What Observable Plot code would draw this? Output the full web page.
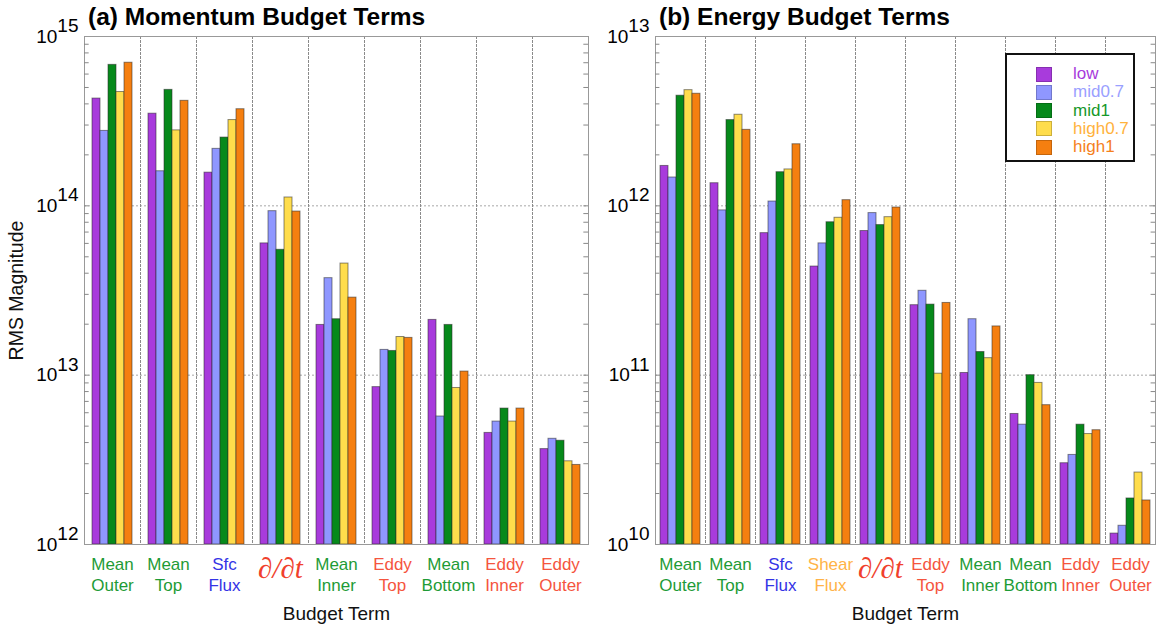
<!DOCTYPE html>
<html><head><meta charset="utf-8">
<script src="https://cdn.jsdelivr.net/npm/d3@7"></script>
<script src="https://cdn.jsdelivr.net/npm/@observablehq/plot@0.6"></script>
<style>
body{margin:0;background:#fff;font-family:"Liberation Sans",Arial,sans-serif;}
#wrap{position:relative;width:1159px;height:629px;overflow:hidden;background:#fff;}
.panel{position:absolute;top:0;}
.title{position:absolute;top:4px;font-weight:bold;font-size:24.5px;line-height:25px;color:#000;white-space:nowrap;}
#legend{position:absolute;left:1005px;top:53px;width:126px;height:105px;border:2px solid #111;background:#fff;}
#legend .row{position:absolute;left:29px;height:18px;display:flex;align-items:center;}
#legend .sw{width:16px;height:15px;box-sizing:border-box;border:1px solid rgba(0,0,0,0.2);}
#legend .lab{margin-left:21px;font-size:17px;line-height:18px;}
</style></head><body><div id="wrap"></div>
<script>
// ---- series ----
const series = ["low", "mid0.7", "mid1", "high0.7", "high1"];
const seriesFill = ["#a83bdc", "#8f97ff", "#06891b", "#ffdd4c", "#f57f10"];
const seriesText = ["#a83bdc", "#9aa0ff", "#16982a", "#ffb23c", "#f5801c"];

// ---- (a) Momentum budget ----
const momCats = ["Mean Outer", "Mean Top", "Sfc Flux", "ddt", "Mean Inner", "Eddy Top", "Mean Bottom", "Eddy Inner", "Eddy Outer"];
const momLabels = ["Mean\nOuter", "Mean\nTop", "Sfc\nFlux", "∂/∂t", "Mean\nInner", "Eddy\nTop", "Mean\nBottom", "Eddy\nInner", "Eddy\nOuter"];
const momLabelColors = ["#1e9b36", "#1e9b36", "#3434e6", "#f0402c", "#1e9b36", "#f5553e", "#1e9b36", "#f5553e", "#f5553e"];
const momLow    = [4.3e14, 3.5e14, 1.57e14, 6.0e13, 1.98e13, 8.5e12, 2.12e13, 4.56e12, 3.66e12];
const momMid07  = [2.77e14, 1.6e14, 2.17e14, 9.3e13, 3.74e13, 1.41e13, 5.7e12, 5.32e12, 4.21e12];
const momMid1   = [6.8e14, 4.84e14, 2.53e14, 5.5e13, 2.14e13, 1.39e13, 1.98e13, 6.35e12, 4.1e12];
const momHigh07 = [4.7e14, 2.79e14, 3.21e14, 1.12e14, 4.56e13, 1.68e13, 8.4e12, 5.32e12, 3.1e12];
const momHigh1  = [7.0e14, 4.17e14, 3.72e14, 9.25e13, 2.87e13, 1.66e13, 1.05e13, 6.35e12, 2.95e12];
const momTicks = [1e12, 1e13, 1e14, 1e15];

// ---- (b) Energy budget ----
const engCats = ["Mean Outer", "Mean Top", "Sfc Flux", "Shear Flux", "ddt", "Eddy Top", "Mean Inner", "Mean Bottom", "Eddy Inner", "Eddy Outer"];
const engLabels = ["Mean\nOuter", "Mean\nTop", "Sfc\nFlux", "Shear\nFlux", "∂/∂t", "Eddy\nTop", "Mean\nInner", "Mean\nBottom", "Eddy\nInner", "Eddy\nOuter"];
const engLabelColors = ["#1e9b36", "#1e9b36", "#3434e6", "#ffb347", "#f0402c", "#f5553e", "#1e9b36", "#1e9b36", "#f5553e", "#f5553e"];
const engLow    = [1.72e12, 1.36e12, 6.9e11, 4.38e11, 7.1e11, 2.59e11, 1.03e11, 5.9e10, 3.02e10, 1.16e10];
const engMid07  = [1.47e12, 9.4e11, 1.06e12, 6.0e11, 9.06e11, 3.15e11, 2.14e11, 5.1e10, 3.38e10, 1.29e10];
const engMid1   = [4.47e12, 3.21e12, 1.58e12, 8.0e11, 7.7e11, 2.61e11, 1.37e11, 1.0e11, 5.1e10, 1.87e10];
const engHigh07 = [4.82e12, 3.45e12, 1.64e12, 8.5e11, 8.57e11, 1.02e11, 1.26e11, 9.0e10, 4.49e10, 2.66e10];
const engHigh1  = [4.59e12, 2.81e12, 2.31e12, 1.08e12, 9.77e11, 2.67e11, 1.94e11, 6.65e10, 4.73e10, 1.82e10];
const engTicks = [1e10, 1e11, 1e12, 1e13];

const FONT = "Liberation Sans, Arial, Helvetica, sans-serif";

function makePanel({cats, labels, labelColors, cols, ticks, width, marginLeft, marginRight, yLabel}) {
  const rows = [];
  cats.forEach((c, i) => series.forEach((s, j) => rows.push({cat: c, series: s, value: cols[j][i]})));
  const labRows = cats.map((c, i) => ({cat: c, label: labels[i], color: labelColors[i], special: c === "ddt"}));
  const dom = [ticks[0], ticks[ticks.length - 1]];
  const minor = [];
  for (let k = 0; k < ticks.length - 1; k++) for (let m = 2; m <= 9; m++) minor.push(m * ticks[k]);
  const inner = ticks.slice(1, -1);
  const facetW = (width - marginLeft - marginRight) / cats.length;
  const tickLen = 5;
  const marks = [
    Plot.ruleY(inner, {stroke: "#a8a8a8", strokeDasharray: "2,2"}),
    Plot.frame({anchor: "left", stroke: "#8a8a8a", strokeDasharray: "2,2"}),
    Plot.barY(rows, {fx: "cat", x: "series", y1: dom[0], y2: "value", fill: "series", stroke: "#2a2a2a", strokeOpacity: 0.55, strokeWidth: 1}),
    Plot.ruleY(dom, {stroke: "#999"}),
    Plot.frame({facet: "super", stroke: "#999"}),
    // minor ticks inside the frame, left and right edges
    Plot.tickY(minor.concat(inner), {y: d => d, facetAnchor: "left", insetRight: facetW - tickLen, stroke: "#888"}),
    Plot.tickY(minor.concat(inner), {y: d => d, facetAnchor: "right", insetLeft: facetW - tickLen, stroke: "#888"}),
    Plot.axisY({anchor: "left", ticks: ticks, tickSize: 0, tickPadding: 6, fontSize: 19,
      tickFormat: d => "10^" + Math.round(Math.log10(d)), label: null}),
    Plot.text(labRows.filter(d => !d.special), {fx: "cat", text: "label", fill: "color", frameAnchor: "bottom", lineAnchor: "middle", dy: 29.5, fontSize: 17, lineHeight: 1.24}),
    Plot.text(labRows.filter(d => d.special), {fx: "cat", text: "label", fill: "color", frameAnchor: "bottom", lineAnchor: "middle", dy: 24, fontSize: 29, fontStyle: "italic", fontFamily: "Liberation Serif, serif"}),
    Plot.text(["Budget Term"], {facet: "super", text: d => d, frameAnchor: "bottom", lineAnchor: "middle", dy: 69, fontSize: 19, fill: "#111"})
  ];
  if (yLabel) marks.push(Plot.text([{cat: cats[0], t: yLabel}], {fx: "cat", text: "t", frameAnchor: "left", textAnchor: "middle", dx: -68, rotate: -90, fontSize: 19.5, fill: "#111"}));
  const svg = Plot.plot({
    width, height: 629, marginTop: 36, marginBottom: 85, marginLeft, marginRight,
    style: {fontFamily: FONT, fontSize: "16px", color: "#000", background: "transparent", overflow: "visible"},
    fx: {domain: cats, padding: 0, axis: null},
    x: {domain: series, paddingInner: 0, paddingOuter: 0.625, axis: null},
    y: {type: "log", domain: dom, axis: null},
    color: {domain: series, range: seriesFill},
    marks
  });
  // superscript exponents on decade labels
  svg.querySelectorAll('g[aria-label="y-axis tick label"] text').forEach(t => {
    const s = t.textContent;
    if (!s.startsWith("10^")) return;
    const e = s.slice(3);
    t.textContent = "";
    const b = document.createElementNS("http://www.w3.org/2000/svg", "tspan");
    b.textContent = "10";
    const p = document.createElementNS("http://www.w3.org/2000/svg", "tspan");
    p.textContent = e;
    p.setAttribute("dy", "-0.55em");
    t.appendChild(b); t.appendChild(p);
  });
  return svg;
}

const wrap = document.getElementById("wrap");

const left = makePanel({cats: momCats, labels: momLabels, labelColors: momLabelColors,
  cols: [momLow, momMid07, momMid1, momHigh07, momHigh1], ticks: momTicks,
  width: 600, marginLeft: 82, marginRight: 11, yLabel: "RMS Magnitude"});
left.classList.add("panel"); left.style.left = "0px";
wrap.appendChild(left);

const right = makePanel({cats: engCats, labels: engLabels, labelColors: engLabelColors,
  cols: [engLow, engMid07, engMid1, engHigh07, engHigh1], ticks: engTicks,
  width: 559, marginLeft: 52, marginRight: 1, yLabel: null});
right.classList.add("panel"); right.style.left = "600px";
wrap.appendChild(right);

// titles
[["(a) Momentum Budget Terms", 88], ["(b) Energy Budget Terms", 659]].forEach(([t, x]) => {
  const d = document.createElement("div");
  d.className = "title"; d.textContent = t; d.style.left = x + "px";
  wrap.appendChild(d);
});

// legend
const leg = document.createElement("div");
leg.id = "legend";
series.forEach((s, i) => {
  const r = document.createElement("div");
  r.className = "row"; r.style.top = (10 + i * 18.3) + "px";
  const sw = document.createElement("div");
  sw.className = "sw"; sw.style.background = seriesFill[i];
  const lab = document.createElement("div");
  lab.className = "lab"; lab.textContent = s; lab.style.color = seriesText[i];
  r.appendChild(sw); r.appendChild(lab); leg.appendChild(r);
});
wrap.appendChild(leg);
</script></body></html>
